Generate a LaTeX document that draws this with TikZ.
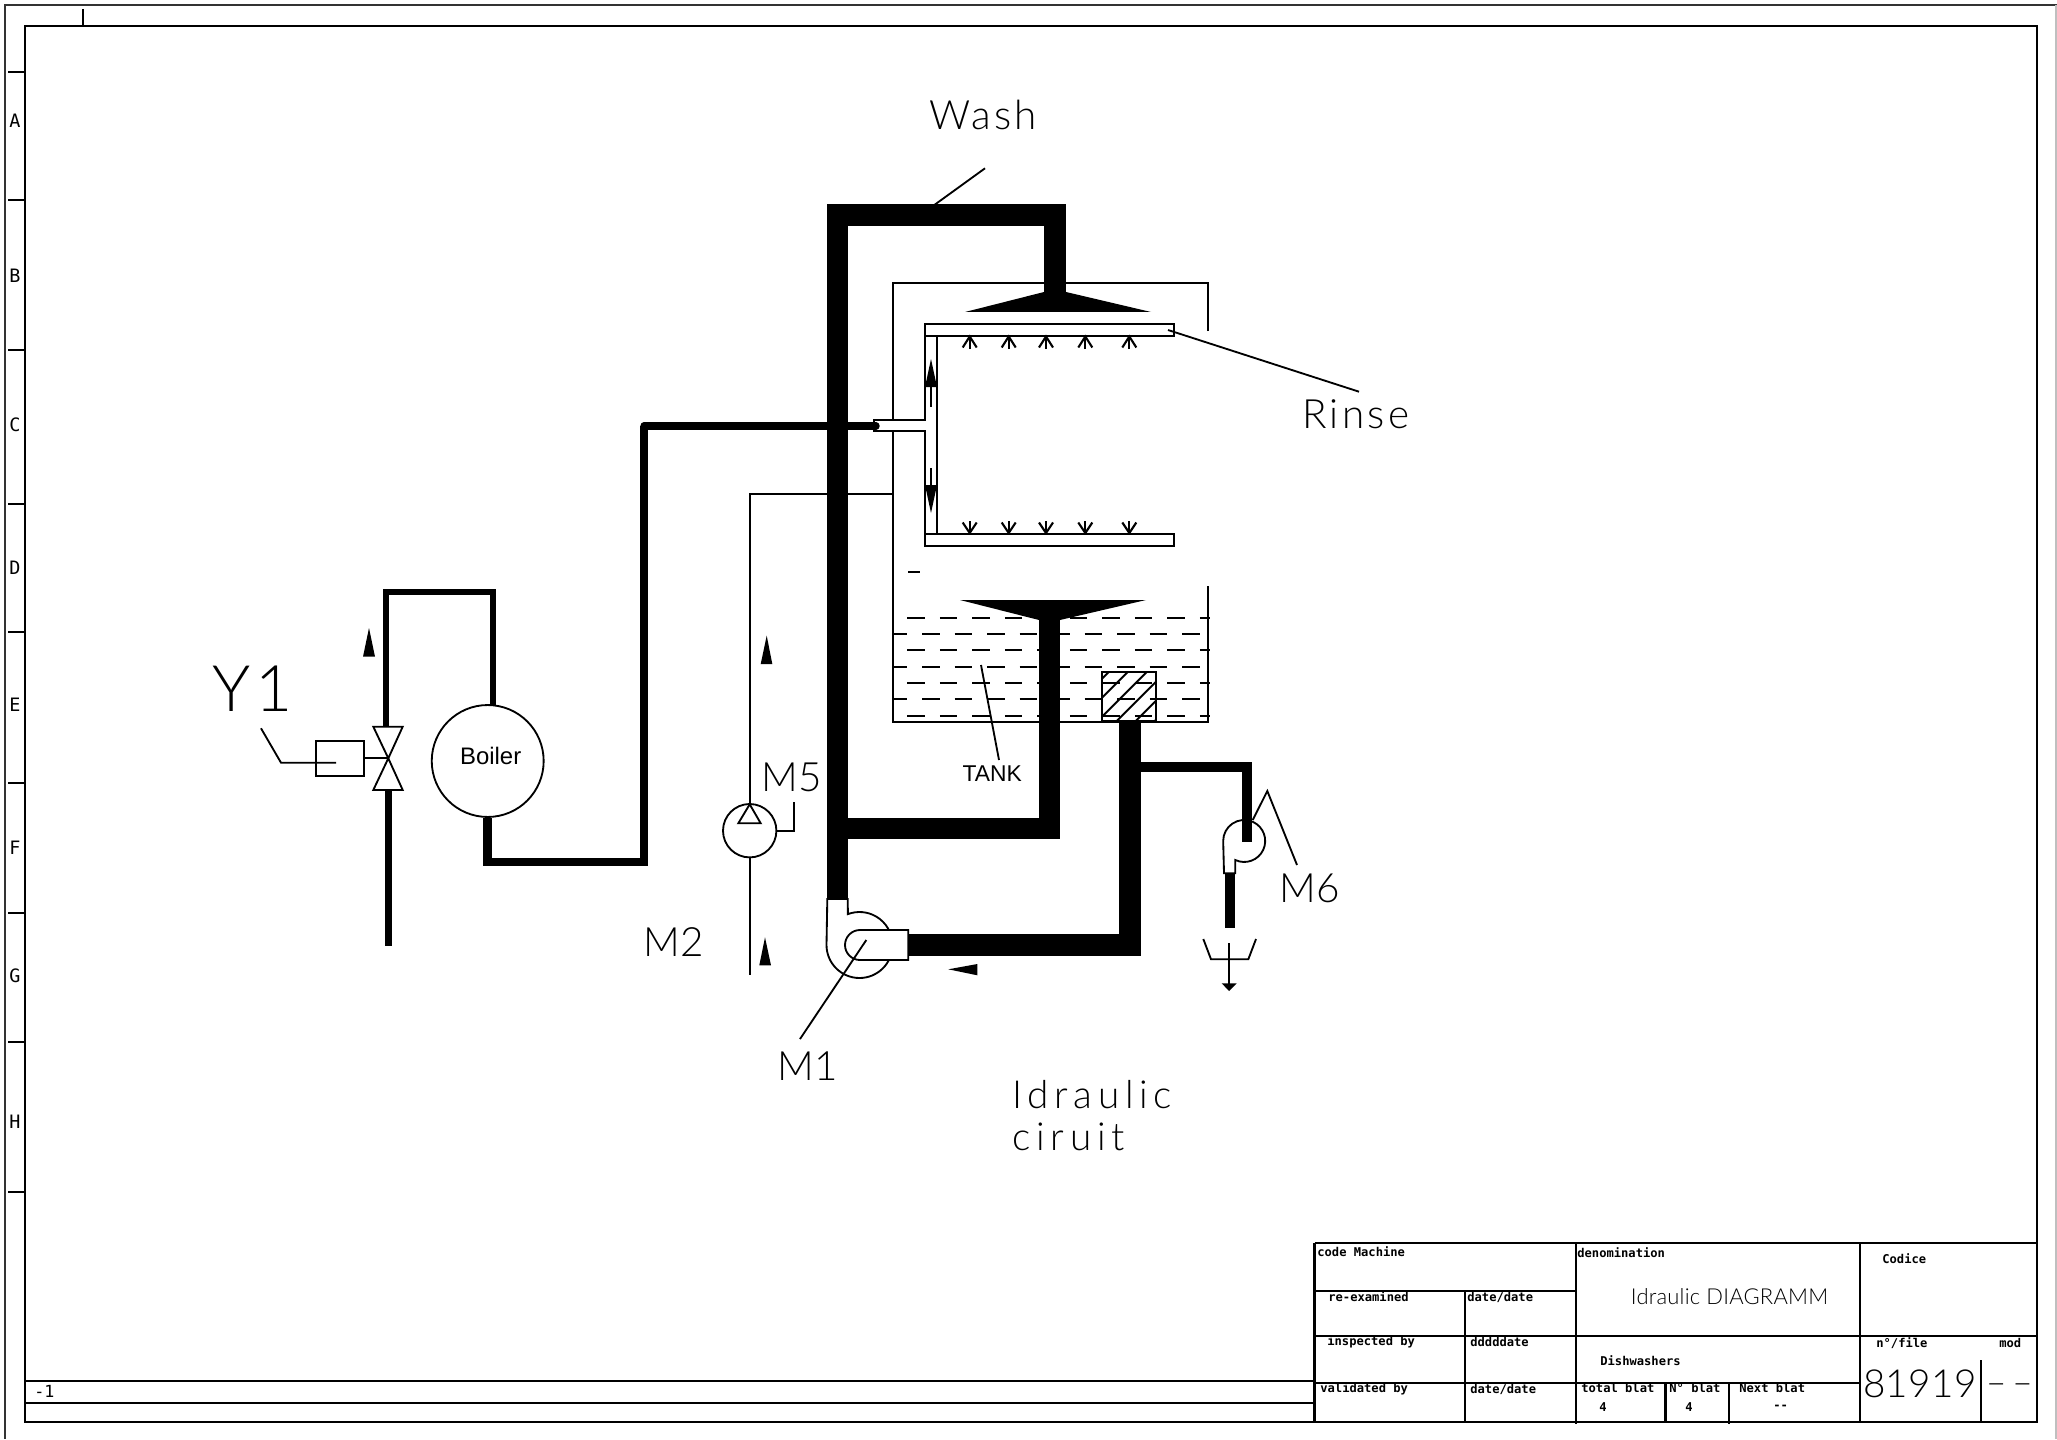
\documentclass[tikz,border=0pt]{standalone}
\usepackage{fontspec}
\setmainfont{Liberation Sans}
\newfontfamily\cadfont[LetterSpace=8]{Lato Light}
\newfontfamily\cadwide[LetterSpace=15]{Lato Light}
\newfontfamily\cadplain[LetterSpace=1]{Lato Light}
\newfontfamily\blockfont{DejaVu Sans Mono}
\usetikzlibrary{positioning}
\tikzset{
    thinline/.style={line width=1.05pt},
    frameline/.style={line width=1.2pt},
    waterline/.style={line width=1.15pt,dash pattern=on 10pt off 8.5pt},
    pipeA/.style={line width=12.2pt},
    pipeB/.style={line width=6.1pt},
    pipeC/.style={line width=4.6pt},
    pipeD/.style={line width=3.2pt},
    bigtext/.style={inner sep=0pt,font=\cadfont\fontsize{#1}{#1}\selectfont},
    widetext/.style={inner sep=0pt,anchor=west,font=\cadwide\fontsize{22pt}{22pt}\selectfont},
    plaintext/.style={inner sep=0pt,font=\cadplain\fontsize{#1}{#1}\selectfont},
    blocktext/.style={inner sep=0pt,anchor=west,font=\blockfont\bfseries\fontsize{6.9pt}{6.9pt}\selectfont},
    flowtip/.style={fill=black,draw=none}
}
\begin{document}
\begin{tikzpicture}[x=0.02cm,y=-0.02cm]
        \useasboundingbox (0,0) rectangle (2057,1439);
        %% Sheet frame
        \draw[frameline,black!80] (2057,5) -- (5,5) -- (5,1439);
        \draw[thinline,black!25] (2056,5) -- (2056,1439);
        \draw[frameline] (25,26) rectangle (2037,1422);
        \draw[frameline] (83,9) -- (83,26);
        \foreach \y in {72,200,350,504,632,783,913,1042,1192} \draw[frameline] (8,\y) -- (25,\y);
        \foreach \y/\l in {121/A,276/B,425/C,568/D,705/E,848/F,976/G,1122/H}
            \node[inner sep=0pt,font=\blockfont\fontsize{10.5pt}{10.5pt}\selectfont] (zone\l) at (15,\y) {\l};
        \draw[frameline] (25,1381) -- (1314,1381);
        \draw[frameline] (25,1403) -- (1314,1403);
        \node[inner sep=0pt,font=\blockfont\fontsize{9.5pt}{9.5pt}\selectfont] (sheet) at (44.5,1391) {-1};
        %% Title block
        \draw[frameline] (1314.5,1243) -- (2037,1243);
        \draw[frameline] (1314.5,1243) -- (1314.5,1422);
        \draw[line width=1.6pt] (1314.5,1291) -- (1576,1291);
        \draw[line width=1.6pt] (1314.5,1336) -- (2037,1336);
        \draw[line width=1.6pt] (1314.5,1383) -- (1860,1383);
        \draw[frameline] (1465,1291) -- (1465,1422);
        \draw[frameline] (1576,1243) -- (1576,1424);
        \draw[frameline] (1665.5,1383) -- (1665.5,1422);
        \draw[frameline] (1729,1383) -- (1729,1424);
        \draw[frameline] (1860,1243) -- (1860,1422);
        \draw[frameline] (1981,1360) -- (1981,1422);
        \node[blocktext] (codem) at (1317,1252) {code Machine};
        \node[blocktext] (denom) at (1577,1253) {denomination};
        \node[blocktext] (codice) at (1882,1259) {Codice};
        \node[blocktext] (reexam) at (1328,1297) {re-examined};
        \node[blocktext] (dateA) at (1467,1297) {date/date};
        \node[blocktext] (insp) at (1327,1342) {inspected by};
        \node[blocktext] (dateB) at (1470,1342) {dddddate};
        \node[blocktext] (valid) at (1320,1389) {validated by};
        \node[blocktext] (dateC) at (1470,1389) {date/date};
        \node[blocktext] (dish) at (1600,1361) {Dishwashers};
        \node[blocktext] (nfile) at (1876,1343) {n°/file};
        \node[blocktext] (modif) at (1999,1343) {mod};
        \node[blocktext] (total) at (1581,1388) {total blat};
        \node[blocktext] (totaln) at (1599,1407) {4};
        \node[blocktext] (nblat) at (1669,1388) {N° blat};
        \node[blocktext] (nblatn) at (1685,1407) {4};
        \node[blocktext] (next) at (1739,1388) {Next blat};
        \node[blocktext] (nextn) at (1773,1407) {{-}{-}};
        \node[plaintext=12.5pt] (title) at (1729.5,1297) {Idraulic DIAGRAMM};
        \node[plaintext=22pt] (fileno) at (1920,1384) {81919};
        \node[plaintext=20pt] (modno) at (2009.5,1389) {–\,–};
        %% Tank
        \foreach \y in {617.7,650.3,683,715.7} \draw[waterline] (907.3,\y) -- (1210,\y);
        \foreach \y in {634,666.7,699.3} \draw[waterline,dash phase=2pt] (893,\y) -- (1208,\y);
        \draw[thinline] (1208,331) -- (1208,283) -- (893,283) -- (893,722) -- (1208,722) -- (1208,586);
        \draw[frameline] (908,571.7) -- (920,571.7);
        %% Filter
        \begin{scope}
            \clip (1101.7,672) rectangle (1155.7,720.7);
            \foreach \d in {1060,1079,...,1170} \draw[thinline] (\d,720.7) -- ++(48.7,-48.7);
        \end{scope}
        \draw[frameline] (1101.7,672) rectangle (1155.7,720.7);
        %% Rinse arm
        \draw[frameline,fill=white] (925,324) -- (1174,324) -- (1174,336) -- (937,336) -- (937,534) -- (1174,534) -- (1174,546) -- (925,546) -- (925,431) -- (874,431) -- (874,420) -- (925,420) -- cycle;
        \draw[frameline] (925,336) -- (937,336);
        \draw[frameline] (925,534) -- (937,534);
        \foreach \x in {969.7,1008.7,1046,1085.3,1129.3} {
            \draw[frameline] (\x,349) -- (\x,336);
            \draw[frameline] (\x-7,347.5) -- (\x,336.5) -- (\x+7,347.5);
            \draw[frameline] (\x,521) -- (\x,533);
            \draw[frameline] (\x-7,522.5) -- (\x,533) -- (\x+7,522.5);
        }
        \fill[flowtip] (925,387) -- (937,387) -- (931,359) -- cycle;
        \draw[frameline] (931,387) -- (931,407);
        \fill[flowtip] (925,485) -- (937,485) -- (931,513) -- cycle;
        \draw[frameline] (931,468) -- (931,485);
        %% Spray heads
        \fill (965,312) -- (1044,292) -- (1066,292) -- (1151,312) -- cycle;
        \fill (960,600) -- (1146,600) -- (1060,620) -- (1039,620) -- cycle;
        %% Pipes
        \coordinate (washA) at (837.5,898);
        \coordinate (washB) at (837.5,215);
        \coordinate (washC) at (1055,215);
        \coordinate (washD) at (1055,293);
        \draw[pipeA,line join=miter] (washA) -- (washB) -- (washC) -- (washD);
        \coordinate (upA) at (837.5,828.5);
        \coordinate (upB) at (1049.5,828.5);
        \coordinate (upC) at (1049.5,601);
        \draw[pipeA,line join=miter] (upA) -- (upB) -- (upC);
        %% Pump M1
        \draw[thinline,fill=white] (847.7,899) -- (827.3,899) -- (826.5,945) arc[start angle=180,end angle=-110.6,radius=33] -- cycle;
        \coordinate (sumpA) at (908.3,945);
        \coordinate (sumpB) at (1130,945);
        \coordinate (sumpC) at (1130,722);
        \draw[pipeA,line join=miter] (sumpA) -- (sumpB) -- (sumpC);
        \draw[thinline,fill=white] (908.3,930) -- (860,930) arc[start angle=-90,end angle=-270,radius=15] -- (908.3,960) -- cycle;
        \coordinate (leadA) at (866.3,940);
        \node[plaintext=23pt] (M1) at (807.5,1066) {M1};
        \draw[thinline] (leadA) -- (800,1039);
        %% Pump M6
        \draw[thinline,fill=white] (1235.3,873.3) -- (1235.3,860) arc[start angle=115,end angle=-180,radius=21] -- (1224,873.3) -- cycle;
        \coordinate (drainA) at (1130,767);
        \coordinate (drainB) at (1247,767);
        \coordinate (drainC) at (1247,841.7);
        \draw[pipeB,line join=miter] (drainA) -- (drainB) -- (drainC);
        \coordinate (drainD) at (1230,873.3);
        \coordinate (drainE) at (1230,927.7);
        \draw[line width=5.4pt] (drainD) -- (drainE);
        \node[plaintext=23pt] (M6) at (1310,888) {M6};
        \draw[thinline] (1252.7,820) -- (1267.3,791) -- (1297,865);
        %% Drain
        \draw[thinline] (1203.3,939) -- (1211,959.3) -- (1248.3,959.3) -- (1256,939);
        \draw[thinline] (1229,943.3) -- (1229,985);
        \fill[flowtip] (1221.7,983.3) -- (1236.7,983.3) -- (1229,991) -- cycle;
        \fill[flowtip] (948.3,969.3) -- (977.3,964) -- (977.3,975.3) -- cycle;
        %% Boiler and valve
        \node[draw,thinline,circle,minimum size=63.7pt,inner sep=0pt] (Boiler) at (487.7,761) {};
        \node[inner sep=0pt,font=\fontsize{13.6pt}{13.6pt}\selectfont] (Boilertext) at (490.7,756) {Boiler};
        \coordinate (hotA) at (644,426);
        \coordinate (hotB) at (644,862);
        \coordinate (hotC) at (487.5,862);
        \draw[pipeC,line join=miter] (hotA) -- (hotB) -- (hotC) -- (Boiler.south -| hotC);
        \coordinate (inlet) at (876,426);
        \draw[line width=4.2pt,line cap=round] (hotA) -- (inlet);
        \coordinate (feedA) at (386,728);
        \coordinate (feedB) at (386,591.7);
        \coordinate (feedC) at (493,591.7);
        \coordinate (feedD) at (493,706);
        \draw[pipeD,line join=miter] (feedA) -- (feedB) -- (feedC) -- (feedD);
        \coordinate (mainsA) at (388.3,790);
        \coordinate (mainsB) at (388.3,946);
        \draw[line width=3.7pt] (mainsA) -- (mainsB);
        \draw[thinline,fill=white] (373.3,726.7) -- (402.7,726.7) -- (388.3,758.3) -- cycle;
        \draw[thinline,fill=white] (373.3,790) -- (402.7,790) -- (388.3,758.3) -- cycle;
        \node[draw,thinline,minimum width=27.3pt,minimum height=19.7pt,inner sep=0pt] (coil) at (339.8,758.3) {};
        \draw[thinline] (coil.east) -- (388.3,758.3);
        \draw[thinline] (261,728.3) -- (281,762.7) -- (336,762.7);
        \node[bigtext=36.5pt] (Y1) at (253,689) {Y1};
        \fill[flowtip] (363,656.7) -- (375,656.7) -- (369,628) -- cycle;
        %% Pump M5 line
        \node[draw,thinline,circle,minimum size=30.4pt,inner sep=0pt] (M5pump) at (749.7,830.7) {};
        \coordinate (levelA) at (749.7,494);
        \coordinate (levelB) at (893,494);
        \coordinate (levelC) at (749.7,975);
        \draw[thinline] (levelB) -- (levelA) -- (M5pump.north);
        \draw[thinline] (M5pump.south) -- (levelC);
        \draw[thinline] (738.3,823.3) -- (760.7,823.3) -- (749.7,804.3) -- cycle;
        \draw[thinline] (M5pump.east) -- (793.7,830.7) -- (793.7,801.7);
        \node[plaintext=23pt] (M5) at (791.7,777.5) {M5};
        \node[plaintext=23pt] (M2) at (674,942) {M2};
        \fill[flowtip] (760.7,664) -- (772.3,664) -- (766.7,635.7) -- cycle;
        \fill[flowtip] (759.3,965.3) -- (771,965.3) -- (765,937.3) -- cycle;
        %% Labels
        \node[bigtext=23pt] (Wash) at (983,115) {Wash};
        \draw[thinline] (985,168.3) -- (934.3,205);
        \node[bigtext=23pt] (Rinse) at (1355.8,414.7) {Rinse};
        \draw[thinline] (1168,330) -- (1359,391.7);
        \node[inner sep=0pt,font=\fontsize{13pt}{13pt}\selectfont] (TANK) at (992.3,773.4) {TANK};
        \draw[thinline] (981,665) -- (999,760);
        \node[widetext] (Idraulic) at (1011.7,1095) {Idraulic};
        \node[widetext] (ciruit) at (1011.7,1137) {ciruit};
    \end{tikzpicture}
\end{document}
